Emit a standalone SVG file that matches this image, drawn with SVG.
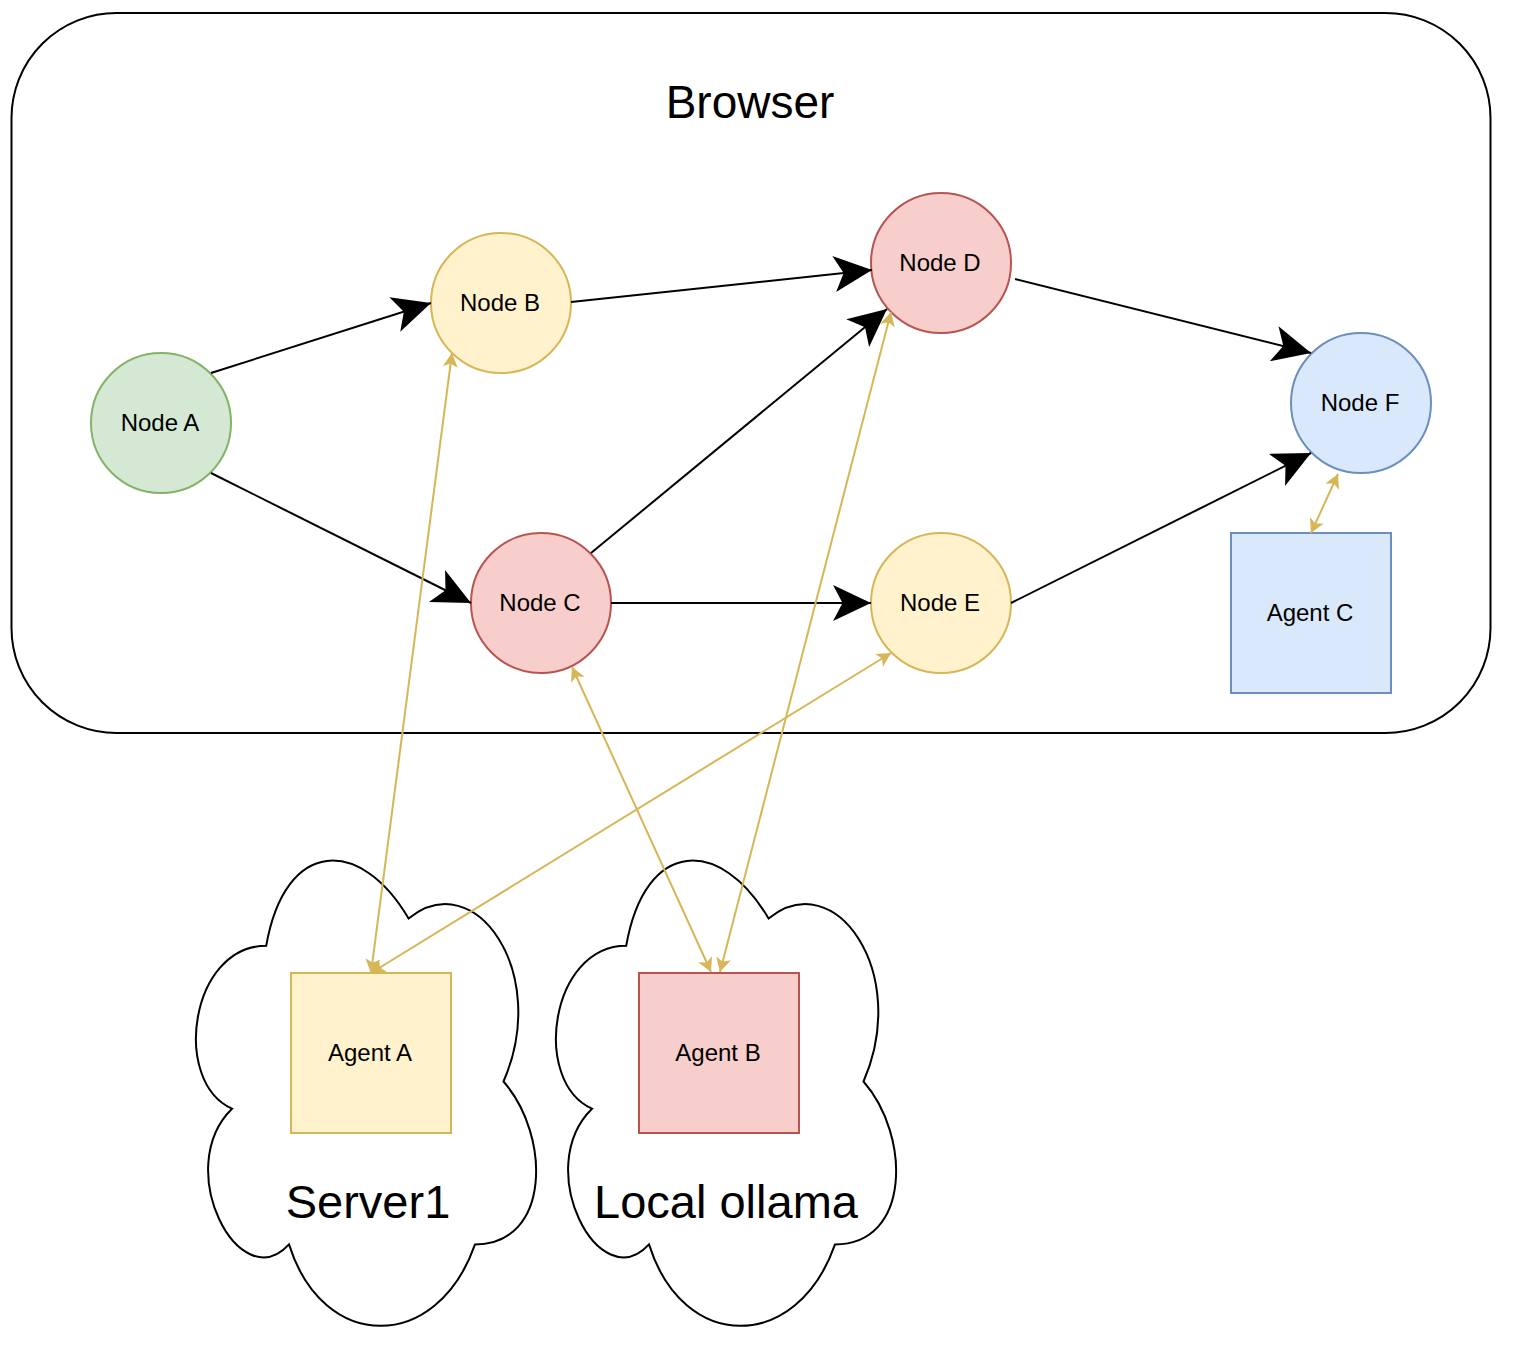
<svg xmlns="http://www.w3.org/2000/svg" width="1522" height="1370" viewBox="0 0 1522 1370">
  <style>
    .lbl { font-family: "Liberation Sans", Arial, Helvetica, sans-serif; font-size: 24px; fill: #000; text-anchor: middle; }
    .big { font-family: "Liberation Sans", Arial, Helvetica, sans-serif; font-size: 47px; fill: #000; text-anchor: middle; }
    .green { fill: #d5e8d4; stroke: #82b366; stroke-width: 2; }
    .yellow { fill: #fff2cc; stroke: #d6b656; stroke-width: 2; }
    .red { fill: #f8cecc; stroke: #b85450; stroke-width: 2; }
    .blue { fill: #dae8fc; stroke: #6c8ebf; stroke-width: 2; }
    .outline { fill: #fff; stroke: #000; stroke-width: 2; }
    .flow { fill: none; stroke: #000; stroke-width: 2; marker-end: url(#arrowBig); }
    .link { fill: none; stroke: #d6b656; stroke-width: 2; marker-start: url(#arrowSmall); marker-end: url(#arrowSmall); }
  </style>
  <defs>
    <marker id="arrowBig" markerUnits="userSpaceOnUse" viewBox="-40 -20 42 40" markerWidth="42" markerHeight="40" refX="0" refY="0" orient="auto">
      <path d="M0,0 L-38,-18 L-28.5,0 L-38,18 Z" fill="#000" stroke="none"/>
    </marker>
    <marker id="arrowSmall" markerUnits="userSpaceOnUse" viewBox="-16 -9 18 18" markerWidth="18" markerHeight="18" refX="0" refY="0" orient="auto-start-reverse">
      <path d="M0,0 L-14,-7.5 L-10.5,0 L-14,7.5 Z" fill="#d6b656" stroke="none"/>
    </marker>
    <path id="cloudShape" d="M 266.2 945.8 C 190.3 945.8, 171.3 1081.5, 232.0 1108.7 C 171.3 1168.4, 239.6 1298.7, 289.0 1244.4 C 323.1 1353, 437.0 1353, 475.0 1244.4 C 550.9 1244.4, 550.9 1135.8, 503.5 1081.5 C 550.9 972.9, 475.0 864.3, 408.6 918.6 C 361.1 837.2, 285.2 837.2, 266.2 945.8 Z"/>
  </defs>

  <g id="browser">
    <rect x="11.5" y="13" width="1479" height="720" rx="105" ry="105" class="outline"/>
    <text x="750" y="118" class="big" style="font-size:46px">Browser</text>
  </g>

  <g id="server1">
    <use href="#cloudShape" class="outline"/>
    <text x="368" y="1218" class="big">Server1</text>
  </g>

  <g id="local-ollama">
    <use href="#cloudShape" class="outline" transform="translate(360,0)"/>
    <text x="726" y="1218" class="big">Local ollama</text>
  </g>

  <g id="node-a">
    <circle cx="161" cy="423" r="70" class="green"/>
    <text x="160" y="431" class="lbl">Node A</text>
  </g>
  <g id="node-b">
    <circle cx="501" cy="303" r="70" class="yellow"/>
    <text x="500" y="311" class="lbl">Node B</text>
  </g>
  <g id="node-c">
    <circle cx="541" cy="603" r="70" class="red"/>
    <text x="540" y="611" class="lbl">Node C</text>
  </g>
  <g id="node-d">
    <circle cx="941" cy="263" r="70" class="red"/>
    <text x="940" y="271" class="lbl">Node D</text>
  </g>
  <g id="node-e">
    <circle cx="941" cy="603" r="70" class="yellow"/>
    <text x="940" y="611" class="lbl">Node E</text>
  </g>
  <g id="node-f">
    <circle cx="1361" cy="403" r="70" class="blue"/>
    <text x="1360" y="411" class="lbl">Node F</text>
  </g>
  <g id="agent-c">
    <rect x="1231" y="533" width="160" height="160" class="blue"/>
    <text x="1310" y="621" class="lbl">Agent C</text>
  </g>
  <g id="agent-a">
    <rect x="291" y="973" width="160" height="160" class="yellow"/>
    <text x="370" y="1061" class="lbl">Agent A</text>
  </g>
  <g id="agent-b">
    <rect x="639" y="973" width="160" height="160" class="red"/>
    <text x="718" y="1061" class="lbl">Agent B</text>
  </g>

  <g id="connectors">
    <path d="M211,373 L431,303" class="flow"/>
    <path d="M571,302 L872,270" class="flow"/>
    <path d="M211,473 L471,603" class="flow"/>
    <path d="M591,553 L887,309" class="flow"/>
    <path d="M611,603 L871,603" class="flow"/>
    <path d="M1015,279 L1311,353" class="flow"/>
    <path d="M1011,603 L1311,453" class="flow"/>

    <path d="M452,353 L371,973" class="link"/>
    <path d="M891,653 L371,973" class="link"/>
    <path d="M572,667 L711,972" class="link"/>
    <path d="M891,312 L720,972" class="link"/>
    <path d="M1338,474 L1311,533" class="link"/>
  </g>
</svg>
